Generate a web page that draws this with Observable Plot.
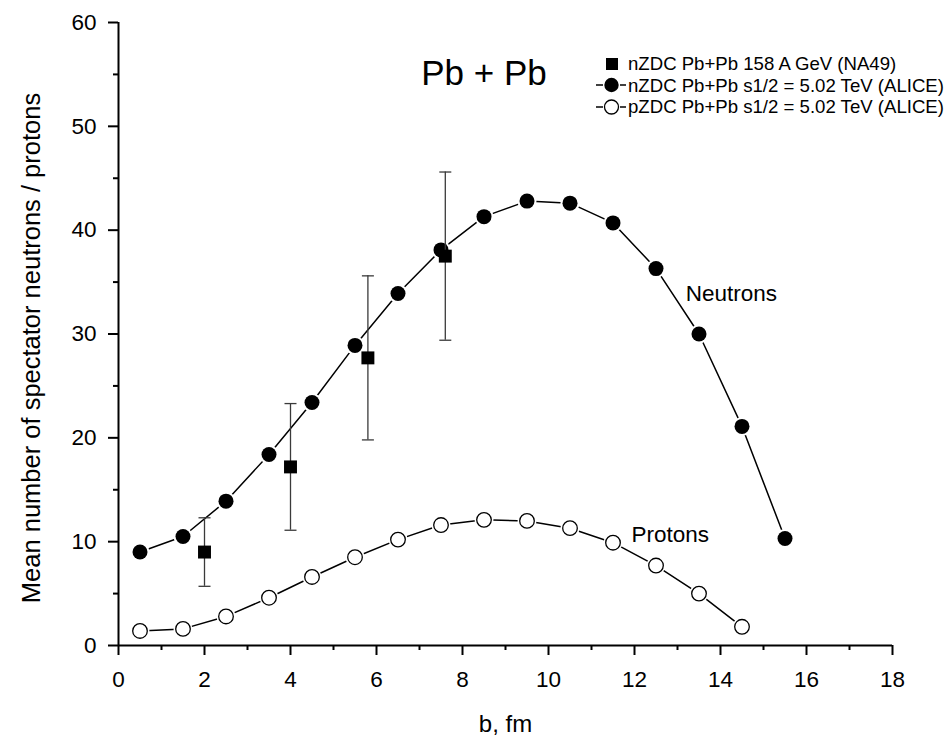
<!DOCTYPE html>
<html>
<head>
<meta charset="utf-8">
<script src="https://cdn.jsdelivr.net/npm/d3@7"></script>
<script src="https://cdn.jsdelivr.net/npm/@observablehq/plot@0.6"></script>
<style>
  html, body { margin: 0; padding: 0; background: #fff; }
  #wrap { position: relative; width: 948px; height: 737px; font-family: "Liberation Sans", Arial, sans-serif; }
  #legend { position: absolute; left: 594px; top: 53px; font-size: 18.6px; color: #000; line-height: 21.5px; white-space: nowrap; }
  #legend .row { display: flex; align-items: center; height: 21.5px; }
  #legend svg { display: block; margin-right: 2px; }
</style>
</head>
<body>
<div id="wrap"></div>
<script>
// ---- data ----
const bAlice = [0.5, 1.5, 2.5, 3.5, 4.5, 5.5, 6.5, 7.5, 8.5, 9.5, 10.5, 11.5, 12.5, 13.5, 14.5, 15.5];
const neutronsAlice = [9.0, 10.5, 13.9, 18.4, 23.4, 28.9, 33.9, 38.1, 41.3, 42.8, 42.6, 40.7, 36.3, 30.0, 21.1, 10.3];
const bProtons = [0.5, 1.5, 2.5, 3.5, 4.5, 5.5, 6.5, 7.5, 8.5, 9.5, 10.5, 11.5, 12.5, 13.5, 14.5];
const protonsAlice = [1.4, 1.6, 2.8, 4.6, 6.6, 8.5, 10.2, 11.6, 12.1, 12.0, 11.3, 9.9, 7.7, 5.0, 1.8];
const bNA49 = [2.0, 4.0, 5.8, 7.6];
const neutronsNA49 = [9.0, 17.2, 27.7, 37.5];
const errLowNA49 = [5.7, 11.1, 19.8, 29.4];
const errHighNA49 = [12.3, 23.3, 35.6, 45.6];
const xMajorTicks = [0, 2, 4, 6, 8, 10, 12, 14, 16, 18];
const xMinorTicks = [1, 3, 5, 7, 9, 11, 13, 15, 17];
const yMajorTicks = [0, 10, 20, 30, 40, 50, 60];
const yMinorTicks = [5, 15, 25, 35, 45, 55];
const annotations = [
  {label: "Pb + Pb", b: 8.5, v: 54.0, size: 35, anchor: "middle"},
  {label: "Neutrons", b: 13.19, v: 33.2, size: 22.5, anchor: "start"},
  {label: "Protons", b: 11.93, v: 9.95, size: 22.5, anchor: "start"}
];
const legendLabels = [
  "nZDC Pb+Pb 158 A GeV (NA49)",
  "nZDC Pb+Pb s1/2 = 5.02 TeV (ALICE)",
  "pZDC Pb+Pb s1/2 = 5.02 TeV (ALICE)"
];

// ---- tables ----
const neutrons = bAlice.map((b, i) => ({b, v: neutronsAlice[i]}));
const protons = bProtons.map((b, i) => ({b, v: protonsAlice[i]}));
const na49 = bNA49.map((b, i) => ({b, v: neutronsNA49[i], lo: errLowNA49[i], hi: errHighNA49[i]}));

const capSymbol = {
  draw(ctx, size) {
    const r = Math.sqrt(size / Math.PI);
    ctx.moveTo(-r, 0);
    ctx.lineTo(r, 0);
  }
};

const font = "Liberation Sans, Arial, sans-serif";
const tickFont = 22.5;

const chart = Plot.plot({
  width: 948,
  height: 737,
  marginLeft: 118,
  marginRight: 56,
  marginTop: 22,
  marginBottom: 92,
  style: {fontFamily: font, background: "#fff", color: "#000"},
  x: {domain: [0, 18]},
  y: {domain: [0, 60]},
  marks: [
    // axes (ticks only)
    Plot.axisX(xMajorTicks, {tickSize: 10, strokeWidth: 2, label: null, tickFormat: () => ""}),
    Plot.axisX(xMinorTicks, {tickSize: 5, strokeWidth: 2, label: null, tickFormat: () => ""}),
    Plot.axisY(yMajorTicks, {tickSize: 10, strokeWidth: 2, label: null, tickFormat: () => ""}),
    Plot.axisY(yMinorTicks, {tickSize: 5, strokeWidth: 2, label: null, tickFormat: () => ""}),
    Plot.ruleY([0], {strokeWidth: 2}),
    Plot.ruleX([0], {strokeWidth: 2}),
    // tick labels
    Plot.text(xMajorTicks, {x: d => d, frameAnchor: "bottom", dy: 26, lineAnchor: "top", textAnchor: "middle", fontSize: tickFont, text: d => String(d)}),
    Plot.text(yMajorTicks, {y: d => d, frameAnchor: "left", dx: -22, lineAnchor: "middle", textAnchor: "end", fontSize: tickFont, text: d => String(d)}),
    // axis titles
    Plot.text(["b, fm"], {frameAnchor: "bottom", dy: 86, lineAnchor: "bottom", textAnchor: "middle", fontSize: 24}),
    Plot.text(["Mean number of spectator neutrons / protons"], {frameAnchor: "left", rotate: -90, dx: -97, dy: 14, lineAnchor: "top", textAnchor: "middle", fontSize: 25.5}),
    // lines
    Plot.line(neutrons, {x: "b", y: "v", stroke: "#000", strokeWidth: 1.5}),
    Plot.line(protons, {x: "b", y: "v", stroke: "#000", strokeWidth: 1.5}),
    // white halos for line gaps
    Plot.dot(neutrons, {x: "b", y: "v", r: 9.5, fill: "#fff", stroke: "none"}),
    Plot.dot(protons, {x: "b", y: "v", r: 9.5, fill: "#fff", stroke: "none"}),
    // markers
    Plot.dot(neutrons, {x: "b", y: "v", r: 7.5, fill: "#000", stroke: "none"}),
    Plot.dot(protons, {x: "b", y: "v", r: 7.3, fill: "#fff", stroke: "#000", strokeWidth: 1.3}),
    // NA49 error bars
    Plot.ruleX(na49, {x: "b", y1: "lo", y2: "hi", stroke: "#3a3a3a", strokeWidth: 1.3}),
    Plot.dot(na49, {x: "b", y: "lo", symbol: capSymbol, r: 6, stroke: "#3a3a3a", strokeWidth: 1.3, fill: "none"}),
    Plot.dot(na49, {x: "b", y: "hi", symbol: capSymbol, r: 6, stroke: "#3a3a3a", strokeWidth: 1.3, fill: "none"}),
    Plot.dot(na49, {x: "b", y: "v", symbol: "square", r: 7.3, fill: "#000", stroke: "none"}),
    // annotations
    Plot.text(annotations, {x: "b", y: "v", text: "label", lineAnchor: "bottom"})
  ]
});

const wrap = document.getElementById("wrap");
wrap.appendChild(chart);

// font sizes / anchors for annotations
chart.querySelectorAll("text").forEach(t => {
  const a = annotations.find(d => d.label === t.textContent);
  if (a) {
    t.setAttribute("font-size", a.size);
    t.style.fontSize = a.size + "px";
    t.setAttribute("text-anchor", a.anchor);
  }
});

// legend (inside plot area, top-right)
const legend = document.createElement("div");
legend.id = "legend";
const icons = [
  `<svg width="32" height="20"><rect x="12" y="4" width="12" height="12" fill="#000"/></svg>`,
  `<svg width="32" height="20"><line x1="2" y1="10" x2="9" y2="10" stroke="#000" stroke-width="1.5"/><line x1="26" y1="10" x2="32" y2="10" stroke="#000" stroke-width="1.5"/><circle cx="17.5" cy="10" r="7.2" fill="#000"/></svg>`,
  `<svg width="32" height="20"><line x1="2" y1="10" x2="9" y2="10" stroke="#000" stroke-width="1.5"/><line x1="26" y1="10" x2="32" y2="10" stroke="#000" stroke-width="1.5"/><circle cx="17.5" cy="10" r="7" fill="#fff" stroke="#000" stroke-width="1.3"/></svg>`
];
legendLabels.forEach((lab, i) => {
  const row = document.createElement("div");
  row.className = "row";
  row.innerHTML = icons[i] + `<span>${lab}</span>`;
  legend.appendChild(row);
});
wrap.appendChild(legend);
</script>
</body>
</html>
